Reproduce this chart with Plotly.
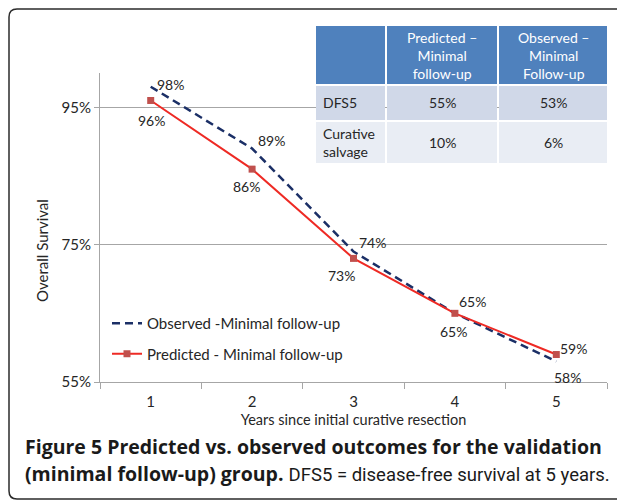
import plotly.graph_objects as go

# ---- data ----
years = [1, 2, 3, 4, 5]
observed = [98, 89, 74, 65, 58]
predicted = [96, 86, 73, 65, 59]
obs_name = "Observed -Minimal follow-up"
pred_name = "Predicted - Minimal follow-up"
y_ticks = [55, 75, 95]

table_header = ["", "Predicted –<br>Minimal<br>follow-up", "Observed –<br>Minimal<br>Follow-up"]
table_rows = [["DFS5", "55%", "53%"], ["Curative<br>salvage", "10%", "6%"]]

# label offsets (pixels) for the data labels
obs_shift = [(20, 2), (19, 8), (19, 9), (18, 12), (11, -16)]
pred_shift = [(1, -20), (-6, -17), (-12, -17), (-1, -18), (17, 6)]

# page is rendered with an 8px body margin; work in page pixel coordinates
OFF = 8
FW, FH = 617, 493
L, R, T, B = 100, 607, 73, 382


def px(x):
    return (x - L) / (R - L)


def py(y):
    return (B - y) / (B - T)


FONT = "Lato"
TXT = "#262626"

fig = go.Figure()
fig.add_trace(go.Scatter(
    x=years, y=observed, name=obs_name, mode="lines",
    line=dict(color="#1b2f66", width=2.5, dash="8px,5px"),
    legendgroup="a", hoverinfo="skip",
))
fig.add_trace(go.Scatter(
    x=years, y=predicted, name=pred_name, mode="lines+markers",
    line=dict(color="#ee2a24", width=2),
    marker=dict(symbol="square", size=7, color="#c0504d"),
    legendgroup="b", hoverinfo="skip",
))

shapes = []
annotations = []

# data labels
for xs, vals, shifts in ((years, observed, obs_shift), (years, predicted, pred_shift)):
    for xv, v, (dx, dy) in zip(xs, vals, shifts):
        annotations.append(dict(x=xv, y=v, xref="x", yref="y", text=f"{v}%", showarrow=False,
                                xanchor="center", yanchor="middle", xshift=dx, yshift=dy,
                                font=dict(family=FONT, size=14, color=TXT)))

# outer rounded frame (right side runs off the page as in the original)
x0, y0, x1, y1, r = 9, 9, 700, 499, 8
path = (f"M {px(x0 + r)} {py(y0)} L {px(x1 - r)} {py(y0)} Q {px(x1)} {py(y0)} {px(x1)} {py(y0 + r)} "
        f"L {px(x1)} {py(y1 - r)} Q {px(x1)} {py(y1)} {px(x1 - r)} {py(y1)} "
        f"L {px(x0 + r)} {py(y1)} Q {px(x0)} {py(y1)} {px(x0)} {py(y1 - r)} "
        f"L {px(x0)} {py(y0 + r)} Q {px(x0)} {py(y0)} {px(x0 + r)} {py(y0)} Z")
shapes.append(dict(type="path", path=path, xref="paper", yref="paper",
                   line=dict(color="#2b2b2b", width=1.5), layer="below"))

# table
col_edges = [(316, 385), (387, 497), (499, 607)]
row_edges = [(26, 84), (86, 120), (122, 163)]
row_colors = ["#4f81bd", "#d0d8e8", "#e9edf4"]
all_rows = [table_header] + table_rows
for ri, (ya, yb) in enumerate(row_edges):
    for ci, (xa, xb) in enumerate(col_edges):
        shapes.append(dict(type="rect", xref="paper", yref="paper",
                           x0=px(xa), x1=px(xb), y0=py(yb), y1=py(ya),
                           fillcolor=row_colors[ri], line=dict(width=0), layer="above"))
        txt = all_rows[ri][ci]
        if not txt:
            continue
        if ci == 0:
            annotations.append(dict(x=px(xa + 5), y=py((ya + yb) / 2), xref="paper", yref="paper",
                                    text=txt, showarrow=False, xanchor="left", yanchor="middle",
                                    align="left",
                                    font=dict(family=FONT, size=14, color=TXT)))
        else:
            annotations.append(dict(x=px((xa + xb) / 2), y=py((ya + yb) / 2), xref="paper", yref="paper",
                                    text=txt, showarrow=False, xanchor="center", yanchor="middle",
                                    align="center",
                                    font=dict(family=FONT, size=14,
                                              color="white" if ri == 0 else TXT)))

# y axis title
annotations.append(dict(x=px(42), y=py(251), xref="paper", yref="paper", text="Overall Survival",
                        textangle=-90, showarrow=False, xanchor="center", yanchor="middle",
                        font=dict(family=FONT, size=15, color=TXT)))

# caption
annotations.append(dict(x=px(23), y=py(446), xref="paper", yref="paper",
                        text="<b>Figure 5 Predicted vs. observed outcomes for the validation</b>",
                        showarrow=False, xanchor="left", yanchor="middle",
                        font=dict(family="Open Sans", size=19.5, color="#1a1a1a")))
annotations.append(dict(x=px(23), y=py(473), xref="paper", yref="paper",
                        text="<b>(minimal follow-up) group.</b> "
                             "<span style='font-family:Roboto;font-size:18.5px'>DFS5 = disease-free survival at 5 years.</span>",
                        showarrow=False, xanchor="left", yanchor="middle",
                        font=dict(family="Open Sans", size=19.5, color="#1a1a1a")))

fig.update_layout(
    width=FW, height=FH,
    margin=dict(l=L - OFF, r=FW + OFF - R, t=T - OFF, b=FH + OFF - B),
    paper_bgcolor="white", plot_bgcolor="white",
    font=dict(family=FONT, size=14, color=TXT),
    shapes=shapes, annotations=annotations,
    legend=dict(x=px(107), y=py(307), xanchor="left", yanchor="top",
                bgcolor="rgba(0,0,0,0)", font=dict(family=FONT, size=15, color=TXT),
                traceorder="grouped", tracegroupgap=8, itemwidth=30),
    showlegend=True,
    hovermode=False,
)
fig.update_xaxes(range=[0.5, 5.5], tickvals=years, ticktext=[str(y) for y in years],
                 showgrid=False, showline=True, linecolor="#a6a6a6", linewidth=1,
                 ticks="", tickfont=dict(family=FONT, size=15, color=TXT), ticklabelstandoff=6,
                 title=dict(text="Years since initial curative resection",
                            font=dict(family=FONT, size=14.5, color=TXT), standoff=5),
                 zeroline=False, minor=dict(tickvals=[0.5, 1.5, 2.5, 3.5, 4.5, 5.5], ticks="outside",
                                            ticklen=6, tickcolor="#a6a6a6"))
fig.update_yaxes(range=[55, 100], tickvals=y_ticks, ticktext=[f"{v}%" for v in y_ticks],
                 showgrid=True, gridcolor="#a6a6a6", gridwidth=1,
                 showline=True, linecolor="#a6a6a6", linewidth=1,
                 ticks="outside", ticklen=5, tickcolor="#a6a6a6",
                 tickfont=dict(family=FONT, size=15, color=TXT), zeroline=False)

fig.write_html("out.html")
